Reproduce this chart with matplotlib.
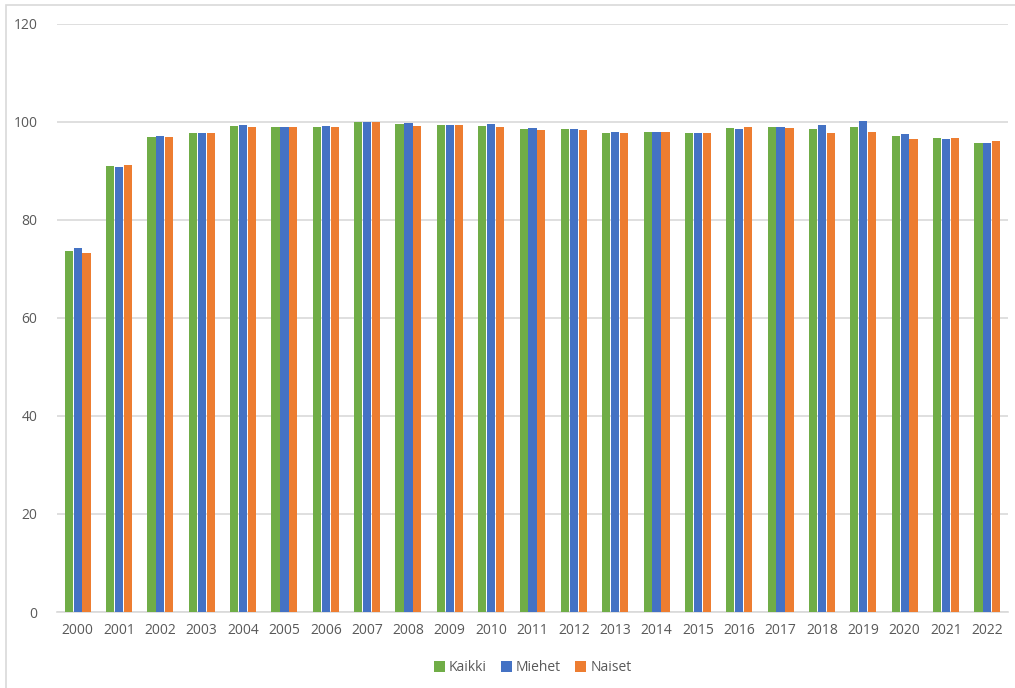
import matplotlib.pyplot as plt
import numpy as np
from matplotlib.patches import Rectangle

years = [str(y) for y in range(2000, 2023)]
kaikki = [73.7, 91.0, 96.8, 97.6, 99.1, 98.9, 98.8, 100.0, 99.6, 99.4, 99.2, 98.4,
          98.4, 97.7, 97.9, 97.7, 98.6, 98.8, 98.4, 98.9, 97.0, 96.7, 95.7]
miehet = [74.3, 90.8, 97.0, 97.6, 99.3, 98.9, 99.0, 100.0, 99.8, 99.4, 99.6, 98.6,
          98.4, 97.9, 97.9, 97.7, 98.4, 98.9, 99.4, 100.1, 97.4, 96.5, 95.7]
naiset = [73.2, 91.2, 96.8, 97.7, 98.9, 98.9, 98.8, 100.0, 99.2, 99.4, 98.9, 98.2,
          98.2, 97.7, 97.9, 97.7, 98.8, 98.6, 97.6, 97.9, 96.5, 96.7, 96.0]
series = [("Kaikki", kaikki, "#70AD47"), ("Miehet", miehet, "#4472C4"), ("Naiset", naiset, "#ED7D31")]

plt.rcParams['font.family'] = ['Open Sans', 'DejaVu Sans']

fig = plt.figure(figsize=(10.15, 6.88), dpi=100)
ax = fig.add_axes([57 / 1015, 1 - 612 / 688, (1008 - 57) / 1015, (612 - 23.5) / 688])

x = np.arange(len(years))
w = 0.215
for i, (name, vals, col) in enumerate(series):
    ax.bar(x + (i - 1) * w, vals, width=w * 0.92, color=col, label=name, zorder=3)

ax.set_xlim(-0.5, len(years) - 0.5)
ax.set_ylim(0, 120)
ax.set_yticks(range(0, 121, 20))
ax.set_xticks(x)
ax.set_xticklabels(years)
ax.tick_params(axis='both', length=0, labelsize=10, labelcolor='#595959')
ax.tick_params(axis='y', pad=14)
ax.tick_params(axis='x', pad=8)
ax.grid(axis='y', color='#d9d9d9', linewidth=1.2, zorder=0)
for s in ['top', 'right', 'left']:
    ax.spines[s].set_visible(False)
ax.spines['bottom'].set_color('#d9d9d9')
ax.spines['bottom'].set_linewidth(1.2)

ax.legend(loc='center', bbox_to_anchor=(0.5, -0.095), ncol=3, frameon=False,
          fontsize=10, labelcolor='#595959', handlelength=0.8, handleheight=0.8,
          handletextpad=0.3, columnspacing=1.0)

fig.patches.append(Rectangle((6 / 1015, -0.01), 1.02, 1 - 5 / 688 + 0.01,
                             transform=fig.transFigure, fill=False,
                             edgecolor='#d9d9d9', linewidth=1.2))

plt.savefig("out.png", dpi=100)
